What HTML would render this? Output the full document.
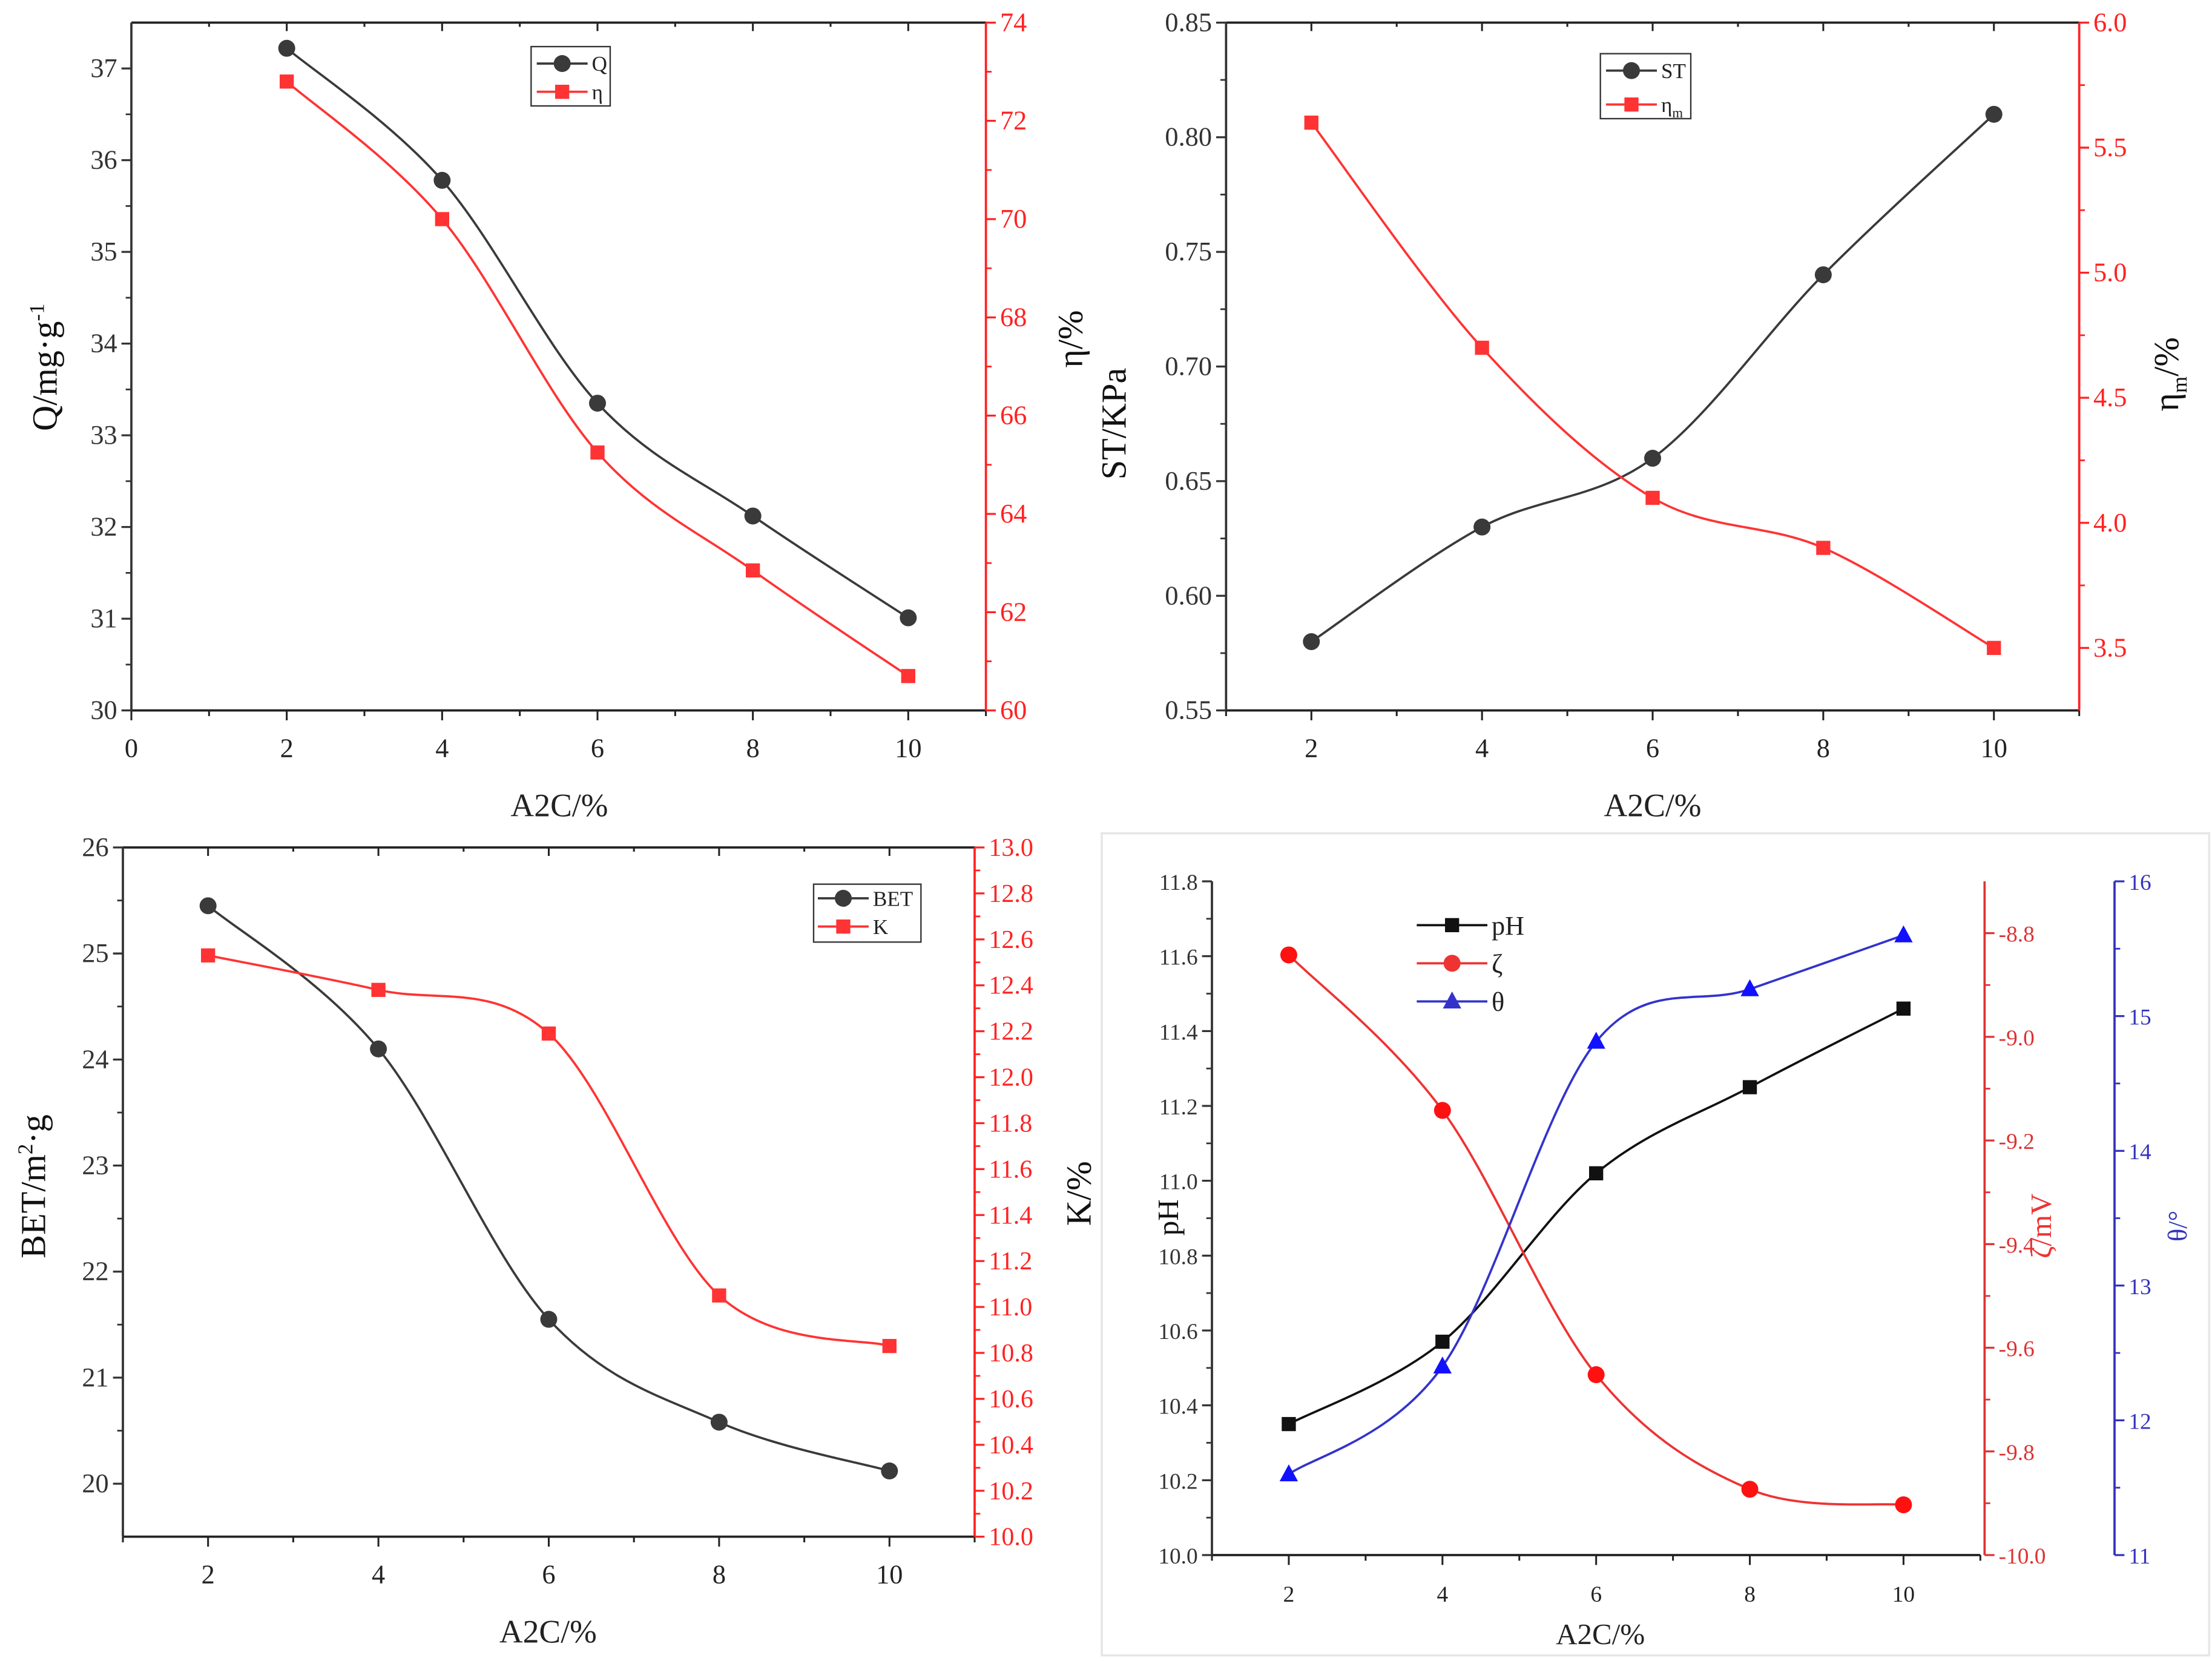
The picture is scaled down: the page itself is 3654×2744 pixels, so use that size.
<!DOCTYPE html>
<html><head><meta charset="utf-8"><style>
html,body{margin:0;padding:0;background:#fff;}
svg{display:block;}
text{font-family:"Liberation Serif","Times New Roman",serif;}
</style></head><body>
<svg id="chart" width="3654" height="2744" viewBox="0 0 1566 1176" preserveAspectRatio="none" xmlns="http://www.w3.org/2000/svg" font-family="Liberation Serif, serif">
<rect x="0" y="0" width="1566" height="1176" fill="#fff"/>
<rect x="780" y="590" width="784" height="582" fill="none" stroke="#e6e6e6" stroke-width="1.5"/>
</svg>
<script>
// ---- data ----
const xCats = [2, 4, 6, 8, 10];
const qValues = [37.22, 35.78, 33.35, 32.12, 31.01];
const etaValues = [72.8, 70.0, 65.25, 62.85, 60.7];
const stValues = [0.58, 0.63, 0.66, 0.74, 0.81];
const etaMValues = [5.6, 4.7, 4.1, 3.9, 3.5];
const betValues = [25.45, 24.1, 21.55, 20.58, 20.12];
const kValues = [12.53, 12.38, 12.19, 11.05, 10.83];
const phValues = [10.35, 10.57, 11.02, 11.25, 11.46];
const zetaValues = [-8.842, -9.142, -9.652, -9.873, -9.903];
const thetaValues = [11.6, 12.4, 14.81, 15.2, 15.6];
const p1XTicks = [0, 2, 4, 6, 8, 10];
const p1LeftTicks = [30, 31, 32, 33, 34, 35, 36, 37];
const p1RightTicks = [60, 62, 64, 66, 68, 70, 72, 74];
const xTicks = [2, 4, 6, 8, 10];
const p2LeftTicks = [0.55, 0.60, 0.65, 0.70, 0.75, 0.80, 0.85];
const p2RightTicks = [3.5, 4.0, 4.5, 5.0, 5.5, 6.0];
const p3LeftTicks = [20, 21, 22, 23, 24, 25, 26];
const p3RightTicks = [10.0,10.2,10.4,10.6,10.8,11.0,11.2,11.4,11.6,11.8,12.0,12.2,12.4,12.6,12.8,13.0];
const p4LeftTicks = [10.0,10.2,10.4,10.6,10.8,11.0,11.2,11.4,11.6,11.8];
const p4ZetaTicks = [-10.0,-9.8,-9.6,-9.4,-9.2,-9.0,-8.8];
const p4ThetaTicks = [11,12,13,14,15,16];

const NS = "http://www.w3.org/2000/svg";
const svg = document.getElementById('chart');
const FONT = '"Liberation Serif", serif';
function mk(tag, attrs, parent, txt){
  const e = document.createElementNS(NS, tag);
  for (const k in attrs) e.setAttribute(k, attrs[k]);
  if (tag==='text') e.setAttribute('font-family', FONT);
  if (txt !== undefined) e.textContent = txt;
  (parent || svg).appendChild(e);
  return e;
}
function lin(d0,d1,r0,r1){ return v => r0 + (v-d0)/(d1-d0)*(r1-r0); }
function spline(pts){
  let d = `M${pts[0][0]},${pts[0][1]}`;
  for (let i=0;i<pts.length-1;i++){
    const p0 = pts[Math.max(0,i-1)], p1=pts[i], p2=pts[i+1], p3=pts[Math.min(pts.length-1,i+2)];
    const c1x = p1[0]+(p2[0]-p0[0])/6, c1y = p1[1]+(p2[1]-p0[1])/6;
    const c2x = p2[0]-(p3[0]-p1[0])/6, c2y = p2[1]-(p3[1]-p1[1])/6;
    d += ` C${c1x},${c1y} ${c2x},${c2y} ${p2[0]},${p2[1]}`;
  }
  return d;
}
function marker(g, type, x, y, color){
  let m;
  if (type==='circle') m = mk('circle',{cx:x,cy:y,r:6,fill:color},g);
  else if (type==='square') m = mk('rect',{x:x-5,y:y-5,width:10,height:10,fill:color},g);
  else m = mk('polygon',{points:`${x},${y-7} ${x-6.5},${y+5} ${x+6.5},${y+5}`,fill:color},g);
  return m;
}
function fmt(v, dec){ return dec===0 ? String(v) : v.toFixed(dec); }

function yAxis(g, ax, x, side, y0, y1){
  const sy = lin(ax.min, ax.max, y1, y0);
  const line = mk('line',{x1:x,y1:y0,x2:x,y2:y1,stroke:ax.color,'stroke-width':1.6},g);
  
  
  const dir = side==='left' ? -1 : 1;
  ax.ticks.forEach(t=>{
    const y = sy(t);
    mk('line',{x1:x,y1:y,x2:x+dir*7,y2:y,stroke:ax.color,'stroke-width':1.4},g);
    const lbl = mk('text',{x:x+dir*10,y:y+6,'font-size':ax.fs||19,fill:ax.color,'text-anchor':side==='left'?'end':'start'},g,fmt(t,ax.dec));
    
    
  });
  if (ax.minor){
    for (let i=0;i<ax.ticks.length-1;i++){
      const m=(ax.ticks[i]+ax.ticks[i+1])/2;
      if (m<ax.min||m>ax.max) continue;
      mk('line',{x1:x,y1:sy(m),x2:x+dir*4,y2:sy(m),stroke:ax.color,'stroke-width':1.2},g);
    }
  }
  return sy;
}

function panel(cfg){
  const g = mk('g',{});
  
  
  const sx = lin(cfg.xmin,cfg.xmax,cfg.x0,cfg.x1);
  const bx = mk('line',{x1:cfg.x0,y1:cfg.y1,x2:cfg.x1,y2:cfg.y1,stroke:'#222','stroke-width':1.6},g);
  
  
  if (cfg.top) mk('line',{x1:cfg.x0,y1:cfg.y0,x2:cfg.x1,y2:cfg.y0,stroke:'#222','stroke-width':1.6},g);
  for (let v=Math.ceil(cfg.xmin); v<=cfg.xmax; v++){
    const major = v%2===0;
    mk('line',{x1:sx(v),y1:cfg.y1,x2:sx(v),y2:cfg.y1+(major?7:4),stroke:'#222','stroke-width':1.3},g);
    if (cfg.top) mk('line',{x1:sx(v),y1:cfg.y0,x2:sx(v),y2:cfg.y0+(major?6:3),stroke:'#222','stroke-width':1.3},g);
  }
  cfg.xTicks.forEach(t=>{
    const l = mk('text',{x:sx(t),y:cfg.y1+33,'font-size':cfg.xfs||19,fill:'#222','text-anchor':'middle'},g,String(t));
    
    
  });
  const xt = mk('text',{x:cfg.xtitle[0],y:cfg.xtitle[1],'font-size':cfg.xtfs||23,fill:'#222','text-anchor':'middle'},g,'A2C/%');
  
  
  const scales = {};
  cfg.axes.forEach(ax=>{ scales[ax.name] = yAxis(g, ax, ax.x, ax.side, cfg.y0, cfg.y1); });
  cfg.series.forEach(s=>{
    const sy = scales[s.axis];
    const pts = xCats.map((c,i)=>[sx(c), sy(s.values[i])]);
    const p = mk('path',{d:spline(pts),fill:'none',stroke:s.color,'stroke-width':1.6},g);
    
    
    pts.forEach(pt=>{
      const m = marker(g, s.marker, pt[0], pt[1], s.mcolor||s.color);
      
      
    });
  });
  return g;
}
function ytitle(x,y,txt,color,fs,name){
  const t = mk('text',{x:x,y:y,'font-size':fs,fill:color,'text-anchor':'middle',transform:`rotate(-90 ${x} ${y})`});
  
  
  txt.forEach(part=>{ mk('tspan',part.attrs||{},t,part.t); });
}
function legend(g, x, y, entries, box, fs, gap){
  const lg = mk('g',{},g);
  
  
  if (box) mk('rect',{x:box[0],y:box[1],width:box[2],height:box[3],fill:'#fff',stroke:'#333','stroke-width':1},lg);
  entries.forEach((e,i)=>{
    const yy = y + i*gap;
    const eg = mk('g',{},lg);
    
    
    mk('line',{x1:x,y1:yy,x2:x+e.w,y2:yy,stroke:e.color,'stroke-width':1.6},eg);
    marker(eg, e.marker, x+e.w/2, yy, e.color);
    const t = mk('text',{x:x+e.w+3,y:yy+fs*0.35,'font-size':fs,fill:'#222'},eg);
    mk('tspan',{},t,e.label);
    if (e.sub) mk('tspan',{'font-size':fs*0.65,dy:4},t,e.sub);
  });
}

// Panel A
const gA = panel({name:'panel-q-eta',x0:93,x1:698,y0:16,y1:503,xmin:0,xmax:11,top:true,xTicks:p1XTicks,xtitle:[396,578],
  axes:[{name:'q-axis',side:'left',x:93,min:30,max:37.5,ticks:p1LeftTicks,minor:true,color:'#333',dec:0},
        {name:'eta-axis',side:'right',x:698,min:60,max:74,ticks:p1RightTicks,minor:true,color:'#f22',dec:0}],
  series:[{name:'q',axis:'q-axis',values:qValues,color:'#3a3a3a',marker:'circle'},
          {name:'eta',axis:'eta-axis',values:etaValues,color:'#f33',marker:'square'}]});
legend(gA, 380, 45, [{key:'q',label:'Q',color:'#3a3a3a',marker:'circle',w:36},{key:'eta',label:'η',color:'#f33',marker:'square',w:36}],[376,33,56,42],15,20);
ytitle(40,260,[{t:'Q/mg·g'},{t:'-1',attrs:{'font-size':15,dy:-9}}],'#111',25,'q-axis-title');
ytitle(766,240,[{t:'η/%'}],'#111',25,'eta-axis-title');

// Panel B
const gB = panel({name:'panel-st-etam',x0:868,x1:1472,y0:16,y1:503,xmin:1,xmax:11,top:true,xTicks:xTicks,xtitle:[1170,578],
  axes:[{name:'st-axis',side:'left',x:868,min:0.55,max:0.85,ticks:p2LeftTicks,minor:true,color:'#333',dec:2},
        {name:'etam-axis',side:'right',x:1472,min:3.25,max:6.0,ticks:p2RightTicks,minor:true,color:'#f22',dec:1}],
  series:[{name:'st',axis:'st-axis',values:stValues,color:'#3a3a3a',marker:'circle'},
          {name:'etam',axis:'etam-axis',values:etaMValues,color:'#f33',marker:'square'}]});
legend(gB, 1137, 50, [{key:'st',label:'ST',color:'#3a3a3a',marker:'circle',w:36},{key:'etam',label:'η',sub:'m',color:'#f33',marker:'square',w:36}],[1133,38,64,46],15,24);
ytitle(797,300,[{t:'ST/KPa'}],'#111',25,'st-axis-title');
ytitle(1542,265,[{t:'η'},{t:'m',attrs:{'font-size':15,dy:6}},{t:'/%',attrs:{dy:-6}}],'#111',25,'etam-axis-title');

// Panel C
const gC = panel({name:'panel-bet-k',x0:87,x1:690,y0:600,y1:1088,xmin:1,xmax:11,top:true,xTicks:xTicks,xtitle:[388,1163],
  axes:[{name:'bet-axis',side:'left',x:87,min:19.5,max:26,ticks:p3LeftTicks,minor:true,color:'#333',dec:0},
        {name:'k-axis',side:'right',x:690,min:10,max:13,ticks:p3RightTicks,minor:true,color:'#f22',dec:1,fs:18}],
  series:[{name:'bet',axis:'bet-axis',values:betValues,color:'#3a3a3a',marker:'circle'},
          {name:'k',axis:'k-axis',values:kValues,color:'#f33',marker:'square'}]});
legend(gC, 579, 636, [{key:'bet',label:'BET',color:'#3a3a3a',marker:'circle',w:36},{key:'k',label:'K',color:'#f33',marker:'square',w:36}],[576,626,76,41],15,20);
ytitle(32,840,[{t:'BET/m'},{t:'2',attrs:{'font-size':15,dy:-9}},{t:'·g',attrs:{dy:9}}],'#111',25,'bet-axis-title');
ytitle(772,845,[{t:'K/%'}],'#111',25,'k-axis-title');

// Panel D
const gD = panel({name:'panel-ph-zeta-theta',x0:858,x1:1402,y0:624,y1:1101,xmin:1,xmax:11,top:false,xTicks:xTicks,xfs:16,xtfs:21,xtitle:[1133,1164],
  axes:[{name:'ph-axis',side:'left',x:858,min:10,max:11.8,ticks:p4LeftTicks,minor:true,color:'#333',dec:1,fs:16},
        {name:'zeta-axis',side:'right',x:1405,min:-10,max:-8.7,ticks:p4ZetaTicks,minor:true,color:'#d33',dec:1,fs:16},
        {name:'theta-axis',side:'right',x:1497,min:11,max:16,ticks:p4ThetaTicks,minor:true,color:'#33b',dec:0,fs:16}],
  series:[{name:'ph',axis:'ph-axis',values:phValues,color:'#111',marker:'square'},
          {name:'zeta',axis:'zeta-axis',values:zetaValues,color:'#e33',marker:'circle',mcolor:'#f11'},
          {name:'theta',axis:'theta-axis',values:thetaValues,color:'#33c',marker:'triangle',mcolor:'#11f'}]});
legend(gD, 1003, 655, [{key:'ph',label:'pH',color:'#111',marker:'square',w:50},{key:'zeta',label:'ζ',color:'#e33',marker:'circle',w:50},{key:'theta',label:'θ',color:'#33c',marker:'triangle',w:50}],null,19,27);
ytitle(834,862,[{t:'pH'}],'#111',21,'ph-axis-title');
ytitle(1452,868,[{t:'ζ/mV'}],'#e33',21,'zeta-axis-title');
ytitle(1548,868,[{t:'θ/°'}],'#33b',19,'theta-axis-title');
</script>
</body></html>
